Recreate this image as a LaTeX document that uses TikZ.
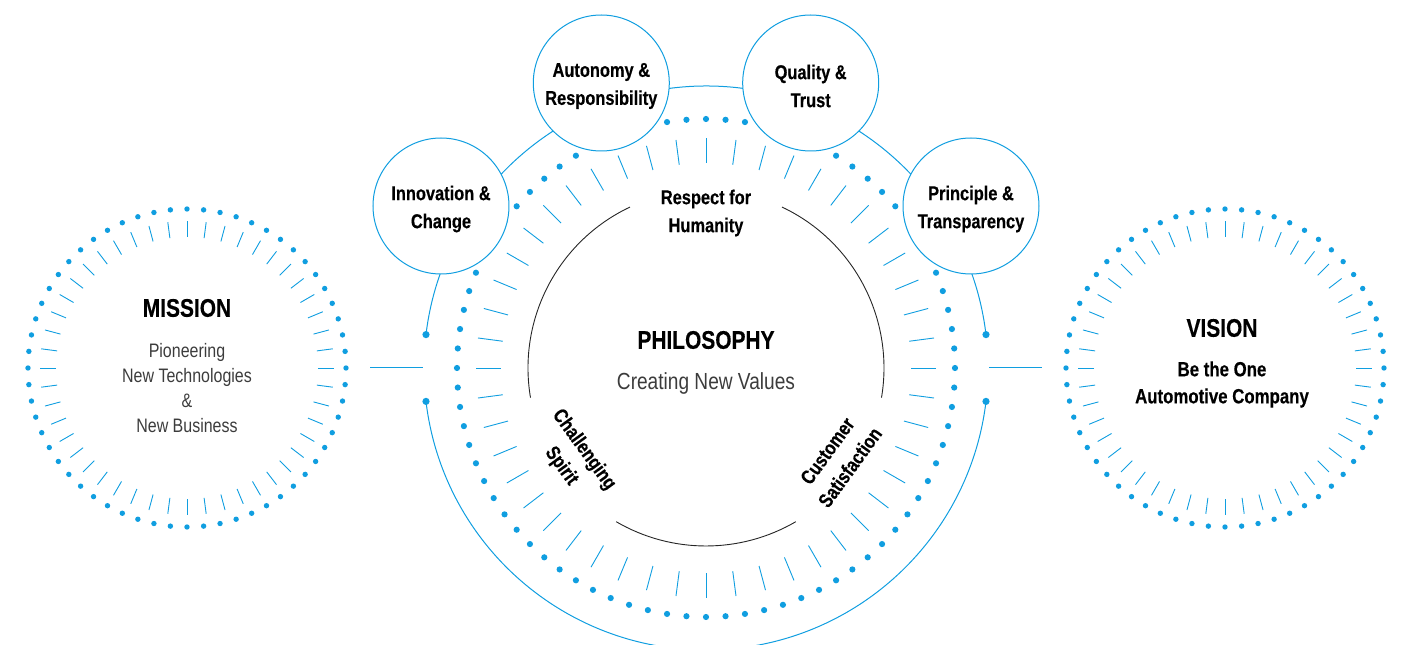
\documentclass[tikz,border=0pt]{standalone}
\usepackage{fontspec}
\setmainfont[FakeStretch=0.82,BoldFeatures={FakeBold=0.35}]{Liberation Sans}
\definecolor{skyblue}{RGB}{16,158,224}
\definecolor{textgray}{RGB}{60,60,60}
\tikzset{
  ringtick/.style={skyblue,line width=0.9pt},
  link/.style={skyblue,line width=1pt},
  valuecircle/.style={circle,draw=skyblue,fill=white,line width=1pt,minimum size=136pt,inner sep=0pt},
  valuetext/.style={align=center,font=\bfseries\fontsize{20}{28}\selectfont},
  headline/.style={font=\bfseries\fontsize{25.5}{30}\selectfont},
  subtext/.style={align=center,text=textgray,font=\fontsize{19.5}{25}\selectfont},
}

\begin{document}
\begin{tikzpicture}[x=1pt,y=1pt]
  \useasboundingbox (-706,-277) rectangle (700,368);
  \node[circle,minimum size=366pt,inner sep=0pt] (mission) at (-519,0) {};
  \node[circle,minimum size=366pt,inner sep=0pt] (vision)  at (+519,0) {};
  \node[circle,minimum size=566pt,inner sep=0pt] (philo)   at (0,0) {};
  \draw[link] (mission) -- (philo);
  \draw[link] (philo) -- (vision);

  \foreach \c in {mission,vision} {
    \foreach \a in {0,6,...,354} \fill[skyblue] (\c.center) ++(\a:159) circle (2.7);
    \foreach \a in {0,7.5,...,352.5} \draw[ringtick] (\c.center) ++(\a:131) -- ++(\a:16);
  }
  \foreach \a in {0,4.5,...,355.5} \fill[skyblue] (\a:249) circle (3.1);
  \foreach \a in {0,7.5,...,352.5} \draw[ringtick] (\a:205) -- (\a:230);

  \draw[black!85,line width=0.9pt] (115.3:178) arc (115.3:189.6:178);
  \draw[black!85,line width=0.9pt] (239.7:178) arc (239.7:300.3:178);
  \draw[black!85,line width=0.9pt] (-9.6:178) arc (-9.6:64.7:178);

  \coordinate (w1) at (173.2:282);
  \coordinate (w2) at (186.8:282);
  \coordinate (e1) at (6.8:282);
  \coordinate (e2) at (-6.8:282);
  \draw[link] (w2) arc (186.8:353.2:282);
  \draw[link] (e1) arc (6.8:173.2:282);
  \foreach \p in {w1,w2,e1,e2} \fill[skyblue] (\p) circle (3.6);

  \node[valuecircle] (innovation) at (-265,162)   {};
  \node[valuecircle] (autonomy)   at (-104.7,285) {};
  \node[valuecircle] (quality)    at (+104.7,285) {};
  \node[valuecircle] (principle)  at (+265,162)   {};
  \node[valuetext,yshift=-3pt] at (innovation) {Innovation \&\\Change};
  \node[valuetext,yshift=-3pt] at (autonomy)   {Autonomy \&\\Responsibility};
  \node[valuetext,yshift=-3pt] at (quality)    {Quality \&\\Trust};
  \node[valuetext,yshift=-3pt] at (principle)  {Principle \&\\Transparency};

  \node[valuetext] (respect) at (0,155) {Respect for\\Humanity};
  \node[valuetext,rotate=-54] (challenge) at (214:161) {Challenging\\Spirit};
  \node[valuetext,rotate=+54] (customer)  at (325.5:161) {Customer\\Satisfaction};
  \node[headline] (philo-title) at (0,28) {PHILOSOPHY};
  \node[subtext,font=\fontsize{23.3}{25}\selectfont] (philo-text) at (0,-15) {Creating New Values};

  \node[headline] (mission-title) at (-519,60) {MISSION};
  \node[subtext] (mission-text) at (-519,-20.5) {Pioneering\\New Technologies\\\&\\New Business};
  \node[headline] (vision-title) at (516,40) {VISION};
  \node[valuetext,font=\bfseries\fontsize{20.5}{27}\selectfont] (vision-text) at (516,-16.5) {Be the One\\Automotive Company};
\end{tikzpicture}
\end{document}
